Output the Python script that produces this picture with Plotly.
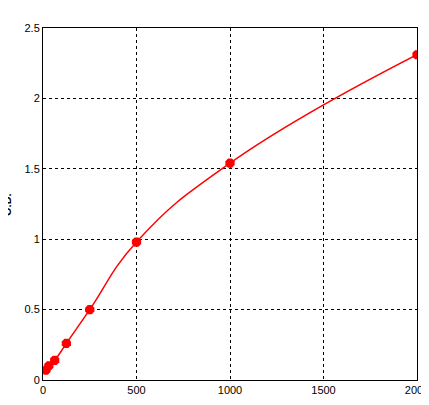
import plotly.graph_objects as go

conc = [15.6, 31.25, 62.5, 125, 250, 500, 1000, 2000]
od = [0.07, 0.10, 0.14, 0.26, 0.50, 0.98, 1.54, 2.31]
x_ticks = [0, 500, 1000, 1500, 2000]
y_ticks = [0, 0.5, 1, 1.5, 2, 2.5]

fig = go.Figure()
fig.add_trace(go.Scatter(x=conc, y=od, mode="lines+markers",
                         line=dict(color="red", width=1.5, shape="spline", smoothing=1.3),
                         marker=dict(color="red", size=10, symbol="octagon")))
axis_common = dict(showline=True, linecolor="black", linewidth=1, mirror=True,
                   showgrid=True, gridcolor="black", griddash="3px,3px", gridwidth=1,
                   zeroline=False, ticks="", automargin=False,
                   tickfont=dict(family="Liberation Sans", size=11, color="black"))
fig.update_layout(
    width=429, height=405, paper_bgcolor="white", plot_bgcolor="white",
    margin=dict(l=35, r=20, t=20, b=33), showlegend=False,
    xaxis=dict(range=[0, 2000], tickvals=x_ticks, ticktext=[str(v) for v in x_ticks], **axis_common),
    yaxis=dict(range=[0, 2.5], tickvals=y_ticks, ticktext=["0", "0.5", "1", "1.5", "2", "2.5"], **axis_common),
    annotations=[
        dict(text="<b>Concentration(pg/ml)</b>", xref="paper", yref="paper", x=0.5, y=-0.075,
             xanchor="center", yanchor="top", showarrow=False,
             font=dict(family="Liberation Sans", size=11, color="black")),
        dict(text="<b>O.D.</b>", xref="paper", yref="paper", x=-0.075, y=0.5, textangle=-90,
             xanchor="right", yanchor="middle", showarrow=False,
             font=dict(family="Liberation Sans", size=11, color="black")),
    ],
)
fig.write_html("out.html")
